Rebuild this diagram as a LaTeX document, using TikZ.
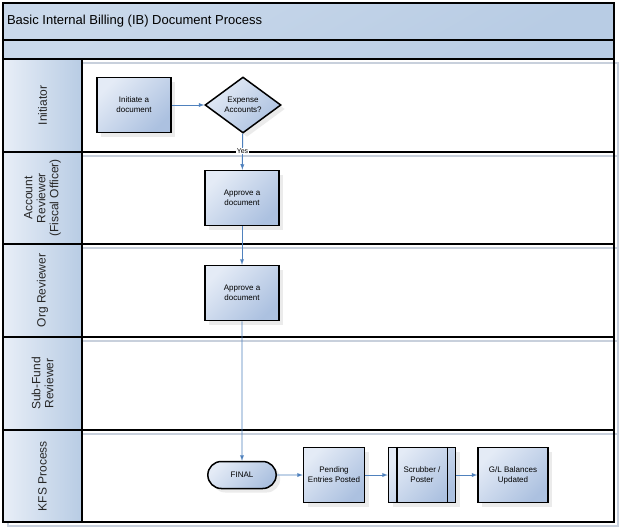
\documentclass[tikz,border=0pt]{standalone}
\usepackage{fontspec}
\setmainfont{Liberation Sans}
\usetikzlibrary{shapes.geometric, shapes.misc, arrows, shadows}
\definecolor{laneblue}{RGB}{184,204,228}
\definecolor{lanelight}{RGB}{232,238,247}
\definecolor{boxlight}{RGB}{228,235,246}
\definecolor{boxdark}{RGB}{172,193,224}
\definecolor{flowblue}{RGB}{79,129,189}
\definecolor{shadowgray}{RGB}{200,208,220}
\tikzstyle{arrow} = [flowblue, line width=0.9pt, ->, >=latex]
\tikzstyle{bar} = [draw=black, line width=1.3pt, top color=laneblue!75!white, bottom color=laneblue, shading angle=30]
\tikzstyle{lane} = [draw=black, line width=1.6pt]
\tikzstyle{laneshadow} = [draw=shadowgray, line width=2pt]
\tikzstyle{lanehead} = [draw=black, line width=1.6pt, left color=lanelight, right color=laneblue]
\tikzstyle{lanelabel} = [rotate=90, align=center, text=black!85, font=\fontsize{12}{13}\selectfont]
\tikzstyle{proc} = [rectangle, draw=black, line width=1.5pt, minimum width=74pt, minimum height=55pt, align=center, inner sep=1pt, font=\fontsize{8}{10}\selectfont, top color=boxlight, bottom color=boxdark, shading angle=45, drop shadow={shadow xshift=4pt, shadow yshift=-4pt, fill=black!15}]
\tikzstyle{decision} = [diamond, aspect=1.35, draw=black, line width=1.5pt, minimum width=76pt, minimum height=56pt, align=center, inner sep=0pt, font=\fontsize{8}{10}\selectfont, top color=boxlight, bottom color=boxdark, shading angle=45, drop shadow={shadow xshift=4pt, shadow yshift=-4pt, fill=black!15}]
\tikzstyle{term} = [rounded rectangle, draw=black, line width=1.5pt, minimum width=75pt, minimum height=27pt, font=\fontsize{8}{10}\selectfont, top color=boxlight, bottom color=boxdark, shading angle=45, drop shadow={shadow xshift=4pt, shadow yshift=-4pt, fill=black!15}]
\tikzstyle{yes} = [fill=white, text=black, inner sep=1pt, font=\fontsize{7}{8}\selectfont]

\begin{document}
\begin{tikzpicture}[x=1pt, y=-1pt]
	\useasboundingbox [fill=white] (0,0) rectangle (624,531);
	% title bars
	\draw [bar] (3,3) rectangle (614,40);
	\node (title) [anchor=west, font=\fontsize{13}{15}\selectfont] at (3.5,21) {Basic Internal Billing (IB) Document Process};
	\draw [bar] (3,40) rectangle (614,59);
	% lanes
	\foreach \top/\bot in {59/152, 152/244, 244/337, 337/430, 430/522}
		\draw [laneshadow] (8,\top+4) rectangle (618,\bot+4);
	\foreach \top/\bot/\name/\txt in {59/152/initiator/Initiator, 152/244/acct/{Account\\Reviewer\\(Fiscal Officer)}, 244/337/org/Org Reviewer, 337/430/subfund/{Sub-Fund\\Reviewer}, 430/522/kfs/KFS Process} {
		\draw [lane] (3,\top) rectangle (614,\bot);
		\draw [lanehead] (3,\top) rectangle (82,\bot);
		\node (\name) [lanelabel] at (42.5,{(\top+\bot)/2}) {\txt};
	}
	% steps
	\node (init) [proc] at (134,105) {Initiate a\\document};
	\node (expense) [decision] at (243,105) {Expense\\Accounts?};
	\node (appr1) [proc] at (242,198) {Approve a\\document};
	\node (appr2) [proc] at (242,293) {Approve a\\document};
	\node (final) [term] at (242,475) {FINAL};
	\node (pending) [proc, minimum width=61pt] at (334,475) {Pending\\Entries Posted};
	\node (scrubber) [proc, minimum width=67pt] at (422,475) {Scrubber /\\Poster};
	\draw [line width=1.5pt] ([xshift=9pt]scrubber.north west) -- ([xshift=9pt]scrubber.south west);
	\draw [line width=1.5pt] ([xshift=-9pt]scrubber.north east) -- ([xshift=-9pt]scrubber.south east);
	\node (gl) [proc, minimum width=70pt] at (513,475) {G/L Balances\\Updated};
	\draw [arrow] (init) -- (expense);
	\draw [arrow] (expense) -- (appr1);
	\node (yeslbl) [yes] at (242.5,151) {Yes};
	\draw [arrow] (appr1) -- (appr2);
	\draw [arrow] (appr2) -- (final);
	\draw [arrow] (final) -- (pending);
	\draw [arrow] (pending) -- (scrubber);
	\draw [arrow] (scrubber) -- (gl);
\end{tikzpicture}
\end{document}
